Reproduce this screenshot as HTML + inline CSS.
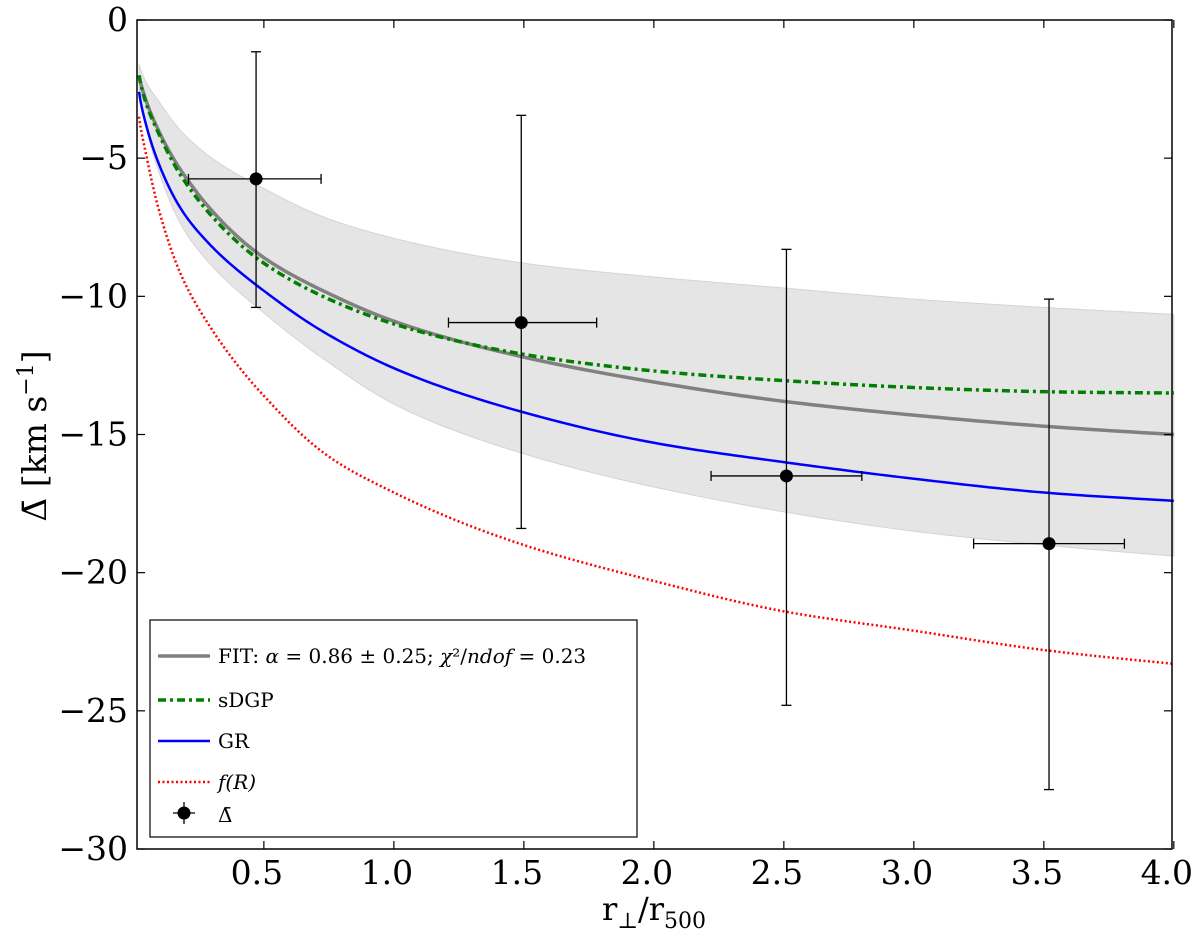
<!DOCTYPE html>
<html><head><meta charset="utf-8"><style>
body{margin:0;background:#fff;}
svg{display:block;font-family:"DejaVu Serif","Liberation Serif",serif;}
</style></head><body>
<svg id="chart" width="1200" height="936" viewBox="0 0 1200 936">
<g id="plot"></g>
</svg>
<script>
const xs=[0.02,0.05,0.1,0.2,0.3,0.5,0.75,1,1.5,2,2.5,3,3.5,4];
const fitVals=[-2.0,-3.0,-4.1,-5.7,-6.9,-8.6,-9.9,-10.9,-12.2,-13.1,-13.8,-14.3,-14.7,-15.0];
const sdgpVals=[-2.0,-3.1,-4.2,-5.9,-7.1,-8.8,-10.1,-11.0,-12.1,-12.7,-13.05,-13.3,-13.45,-13.5];
const grVals=[-2.6,-3.9,-5.3,-7.1,-8.2,-9.8,-11.4,-12.6,-14.2,-15.3,-16.0,-16.6,-17.1,-17.4];
const frVals=[-3.5,-5.0,-7.0,-9.6,-11.2,-13.6,-15.8,-17.1,-19.0,-20.3,-21.4,-22.1,-22.8,-23.3];
const bandUpper=[-1.6,-2.3,-3.0,-4.2,-5.0,-6.1,-7.2,-7.9,-8.8,-9.3,-9.7,-10.1,-10.4,-10.65];
const bandLower=[-2.5,-4.0,-5.6,-7.7,-8.9,-10.6,-12.4,-13.9,-15.7,-16.9,-17.8,-18.5,-19.0,-19.4];
const ptX=[0.47,1.49,2.51,3.52];
const ptY=[-5.75,-10.95,-16.5,-18.95];
const ptXlo=[0.21,1.21,2.22,3.23];
const ptXhi=[0.72,1.78,2.8,3.81];
const ptYhi=[-1.15,-3.45,-8.3,-10.1];
const ptYlo=[-10.4,-18.4,-24.8,-27.85];
const xTicks=[0.5,1.0,1.5,2.0,2.5,3.0,3.5,4.0];
const xTickLabels=["0.5","1.0","1.5","2.0","2.5","3.0","3.5","4.0"];
const yTicks=[0,-5,-10,-15,-20,-25,-30];
const yTickLabels=["0","\u22125","\u221210","\u221215","\u221220","\u221225","\u221230"];

const L=137,R=1172,T=20,B=849,XMIN=0.012,XMAX=3.993,YMIN=-30,YMAX=0;
const sx=v=>L+(v-XMIN)/(XMAX-XMIN)*(R-L);
const sy=v=>T+(YMAX-v)/(YMAX-YMIN)*(B-T);
const NS="http://www.w3.org/2000/svg";
const g=document.getElementById('plot');
function mk(tag,attrs,parent){const e=document.createElementNS(NS,tag);for(const k in attrs)e.setAttribute(k,attrs[k]);(parent||g).appendChild(e);return e;}
function interp(vals){
 const u=xs.map(Math.log),n=u.length,d=[],m=new Array(n);
 for(let i=0;i<n-1;i++)d.push((vals[i+1]-vals[i])/(u[i+1]-u[i]));
 m[0]=d[0];m[n-1]=d[n-2];
 for(let i=1;i<n-1;i++)m[i]=(d[i-1]*d[i]<=0)?0:(d[i-1]+d[i])/2;
 const pts=[];
 for(let i=0;i<n-1;i++){const h=u[i+1]-u[i];
  for(let k=0;k<20;k++){const t=k/20,t2=t*t,t3=t2*t;
   const v=(2*t3-3*t2+1)*vals[i]+(t3-2*t2+t)*h*m[i]+(-2*t3+3*t2)*vals[i+1]+(t3-t2)*h*m[i+1];
   pts.push([Math.exp(u[i]+t*h),v]);}}
 pts.push([xs[n-1],vals[n-1]]);
 return pts.filter(p=>p[0]>=XMIN);
}
function pathOf(pts){return pts.map((p,i)=>(i?'L':'M')+sx(p[0]).toFixed(2)+','+sy(p[1]).toFixed(2)).join(' ');}
const upPts=interp(bandUpper),loPts=interp(bandLower).reverse();
let band=mk('path',{d:pathOf(upPts)+' '+pathOf(loPts).replace(/^M/,'L')+' Z',fill:'#e5e5e5',stroke:'#d4d4d4','stroke-width':1});


function curve(vals,name,stroke,w,dash){const p=mk('path',{d:pathOf(interp(vals)),fill:'none',stroke:stroke,'stroke-width':w});if(dash)p.setAttribute('stroke-dasharray',dash);

}
curve(frVals,'fr-curve','#ff0000',2.5,'2,2.5');
curve(grVals,'gr-curve','#0000ff',2.5,null);
curve(fitVals,'fit-curve','#808080',3.5,null);
curve(sdgpVals,'sdgp-curve','#007f00',3.5,'8,4,3,4');
for(let i=0;i<ptX.length;i++){
 const e=mk('g',{});
 
 
 const cx=sx(ptX[i]),cy=sy(ptY[i]);
 mk('line',{x1:sx(ptXlo[i]),x2:sx(ptXhi[i]),y1:cy,y2:cy,stroke:'#000','stroke-width':1.3},e);
 mk('line',{x1:cx,x2:cx,y1:sy(ptYhi[i]),y2:sy(ptYlo[i]),stroke:'#000','stroke-width':1.3},e);
 [[sx(ptXlo[i]),cy,0],[sx(ptXhi[i]),cy,0],[cx,sy(ptYhi[i]),1],[cx,sy(ptYlo[i]),1]].forEach(c=>{
  if(c[2])mk('line',{x1:c[0]-5,x2:c[0]+5,y1:c[1],y2:c[1],stroke:'#000','stroke-width':1.3},e);
  else mk('line',{x1:c[0],x2:c[0],y1:c[1]-5,y2:c[1]+5,stroke:'#000','stroke-width':1.3},e);});
 mk('circle',{cx:cx,cy:cy,r:6.5,fill:'#000'},e);
}
const fr=mk('rect',{x:L,y:T,width:R-L,height:B-T,fill:'none',stroke:'#000','stroke-width':1.5});


xTicks.forEach((v,i)=>{const x=sx(v);
 mk('line',{x1:x,x2:x,y1:B,y2:B-8,stroke:'#000','stroke-width':1.2});
 mk('line',{x1:x,x2:x,y1:T,y2:T+8,stroke:'#000','stroke-width':1.2});
 const t=mk('text',{x:x-7,y:B+35,'text-anchor':'middle','font-size':33});t.textContent=xTickLabels[i];
 
 });
yTicks.forEach((v,i)=>{const y=sy(v);
 mk('line',{x1:L,x2:L+8,y1:y,y2:y,stroke:'#000','stroke-width':1.2});
 mk('line',{x1:R,x2:R-8,y1:y,y2:y,stroke:'#000','stroke-width':1.2});
 const t=mk('text',{x:L-9,y:y+11,'text-anchor':'end','font-size':33});t.textContent=yTickLabels[i];
 
 });
</script>
<svg style="position:absolute;left:0;top:0" width="1200" height="936">
<text x="654" y="920" text-anchor="middle" font-size="32" font-family="DejaVu Serif,serif">r<tspan font-size="22" dy="8">⊥</tspan><tspan dy="-8">/r</tspan><tspan font-size="22" dy="8">500</tspan></text>
<text transform="translate(46,436) rotate(-90)" text-anchor="middle" font-size="33" font-family="DejaVu Serif,serif">Δ̄ [km s<tspan font-size="22" dy="-13">−1</tspan><tspan dy="13">]</tspan></text>
<g font-family="DejaVu Serif,Liberation Serif,serif" font-size="20">
<rect x="150" y="620" width="487" height="217" fill="#fff" stroke="#000" stroke-width="1.2"/>
<line x1="158" x2="210" y1="656" y2="656" stroke="#808080" stroke-width="3.5"/>
<text x="218" y="663">FIT: <tspan font-style="italic">α</tspan> = 0.86 ± 0.25; <tspan font-style="italic">χ</tspan>²/<tspan font-style="italic">ndof</tspan> = 0.23</text>
<line x1="158" x2="210" y1="700" y2="700" stroke="#007f00" stroke-width="3.5" stroke-dasharray="8,4,3,4"/>
<text x="218" y="707">sDGP</text>
<line x1="158" x2="210" y1="741" y2="741" stroke="#0000ff" stroke-width="2.5"/>
<text x="218" y="748">GR</text>
<line x1="158" x2="210" y1="782" y2="782" stroke="#ff0000" stroke-width="2.5" stroke-dasharray="2,2.5"/>
<text x="218" y="789" font-style="italic">f(R)</text>
<line x1="173" x2="195" y1="813" y2="813" stroke="#000" stroke-width="1.3"/>
<line x1="184" x2="184" y1="802" y2="824" stroke="#000" stroke-width="1.3"/>
<circle cx="184" cy="813" r="6.5" fill="#000"/>
<text x="218" y="822">Δ̄</text>
</g>
</svg>
</body></html>
